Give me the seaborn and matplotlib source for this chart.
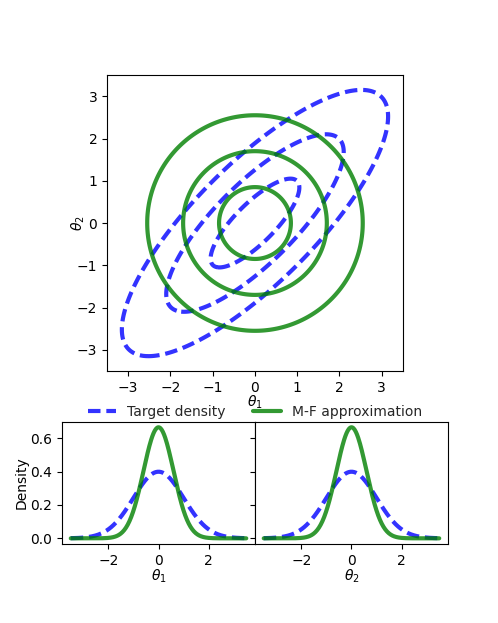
import numpy as np
import pandas as pd
import seaborn as sns
import matplotlib
matplotlib.use("Agg")
import matplotlib.pyplot as plt

# parametros
target_mean = [0.0, 0.0]
target_sd = [1.0, 1.0]
target_rho = 0.8
target_levels = [1.05, 2.1, 3.15]   # raios de Mahalanobis das elipses azuis
mf_sd = [0.6, 0.6]                  # aproximacao mean-field
mf_radii = [0.85, 1.7, 2.55]        # raios dos circulos verdes
eixo_lim = [-3.5, 3.5]
x_ticks_top = [-3, -2, -1, 0, 1, 2, 3]
x_ticks_bottom = [-2, 0, 2]
y_ticks_bottom = [0.0, 0.2, 0.4, 0.6]
rotulos = ["Target density", "M-F approximation"]
cor_alvo = "blue"
cor_mf = "green"

sns.set_theme(style="ticks", rc={"axes.edgecolor": "black", "xtick.color": "black",
                                 "ytick.color": "black", "axes.labelcolor": "black",
                                 "xtick.major.size": 3.5, "ytick.major.size": 3.5,
                                 "xtick.major.width": 0.8, "ytick.major.width": 0.8,
                                 "axes.linewidth": 0.8,
                                 "font.size": 10, "axes.labelsize": 10,
                                 "xtick.labelsize": 10, "ytick.labelsize": 10,
                                 "legend.fontsize": 10})
plt.rcParams['font.family'] = ['DejaVu Sans']

lw = 3.0
tracejado = (0, (3.0, 1.4))

fig = plt.figure(figsize=(4.98, 6.23), dpi=100)
ax = fig.add_axes([0.215, 0.403, 0.594, 0.478])
ax1 = fig.add_axes([0.1245, 0.127, 0.3876, 0.196])
ax2 = fig.add_axes([0.512, 0.127, 0.3876, 0.196], sharey=ax1)

# grade para os contornos
g = np.linspace(eixo_lim[0], eixo_lim[1], 400)
X1, X2 = np.meshgrid(g, g)

# densidade alvo
s1, s2 = target_sd
cov = np.array([[s1**2, target_rho*s1*s2], [target_rho*s1*s2, s2**2]])
prec = np.linalg.inv(cov)
d1 = X1 - target_mean[0]
d2 = X2 - target_mean[1]
maha = prec[0, 0]*d1**2 + 2*prec[0, 1]*d1*d2 + prec[1, 1]*d2**2
norm = 1.0/(2*np.pi*np.sqrt(np.linalg.det(cov)))
Z_alvo = norm*np.exp(-0.5*maha)
niveis_alvo = sorted(norm*np.exp(-0.5*np.array(target_levels)**2))
ax.contour(X1, X2, Z_alvo, levels=niveis_alvo, colors=cor_alvo, alpha=0.8,
           linestyles=[tracejado], linewidths=lw)

# aproximacao mean-field
m1, m2 = mf_sd
Z_mf = np.exp(-0.5*((X1/m1)**2 + (X2/m2)**2))/(2*np.pi*m1*m2)
niveis_mf = sorted(np.exp(-0.5*(np.array(mf_radii)/m1)**2)/(2*np.pi*m1*m2))
ax.contour(X1, X2, Z_mf, levels=niveis_mf, colors=cor_mf, alpha=0.8,
           linestyles="solid", linewidths=lw)

ax.set_xlim(eixo_lim)
ax.set_ylim(eixo_lim)
ax.set_xticks(x_ticks_top)
ax.set_yticks(x_ticks_top)
ax.set_aspect("equal")
ax.set_xlabel(r"$\theta_1$", labelpad=-1)
ax.set_ylabel(r"$\theta_2$", labelpad=-7)

# marginais
xs = np.linspace(-3.5, 3.5, 300)
for i, a in enumerate([ax1, ax2]):
    df = pd.DataFrame({"x": xs,
                       "alvo": np.exp(-0.5*((xs - target_mean[i])/target_sd[i])**2)/(np.sqrt(2*np.pi)*target_sd[i]),
                       "mf": np.exp(-0.5*(xs/mf_sd[i])**2)/(np.sqrt(2*np.pi)*mf_sd[i])})
    sns.lineplot(data=df, x="x", y="alvo", ax=a, color=cor_alvo, alpha=0.8,
                 linestyle=tracejado, linewidth=lw, label=rotulos[0] if i == 0 else None)
    sns.lineplot(data=df, x="x", y="mf", ax=a, color=cor_mf, alpha=0.8,
                 linewidth=lw, label=rotulos[1] if i == 0 else None)
    a.set_xticks(x_ticks_bottom)
    a.set_xlabel(r"$\theta_%d$" % (i + 1), labelpad=0)
    a.set_ylabel("")
    if a.get_legend() is not None:
        a.get_legend().remove()

ax1.set_yticks(y_ticks_bottom)
ax1.set_ylabel("Density", labelpad=1)
plt.setp(ax2.get_yticklabels(), visible=False)

h, l = ax1.get_legend_handles_labels()
fig.legend(h, l, loc="center", bbox_to_anchor=(0.512, 0.339), ncol=2, frameon=False)

fig.savefig("out.png", dpi=100)
